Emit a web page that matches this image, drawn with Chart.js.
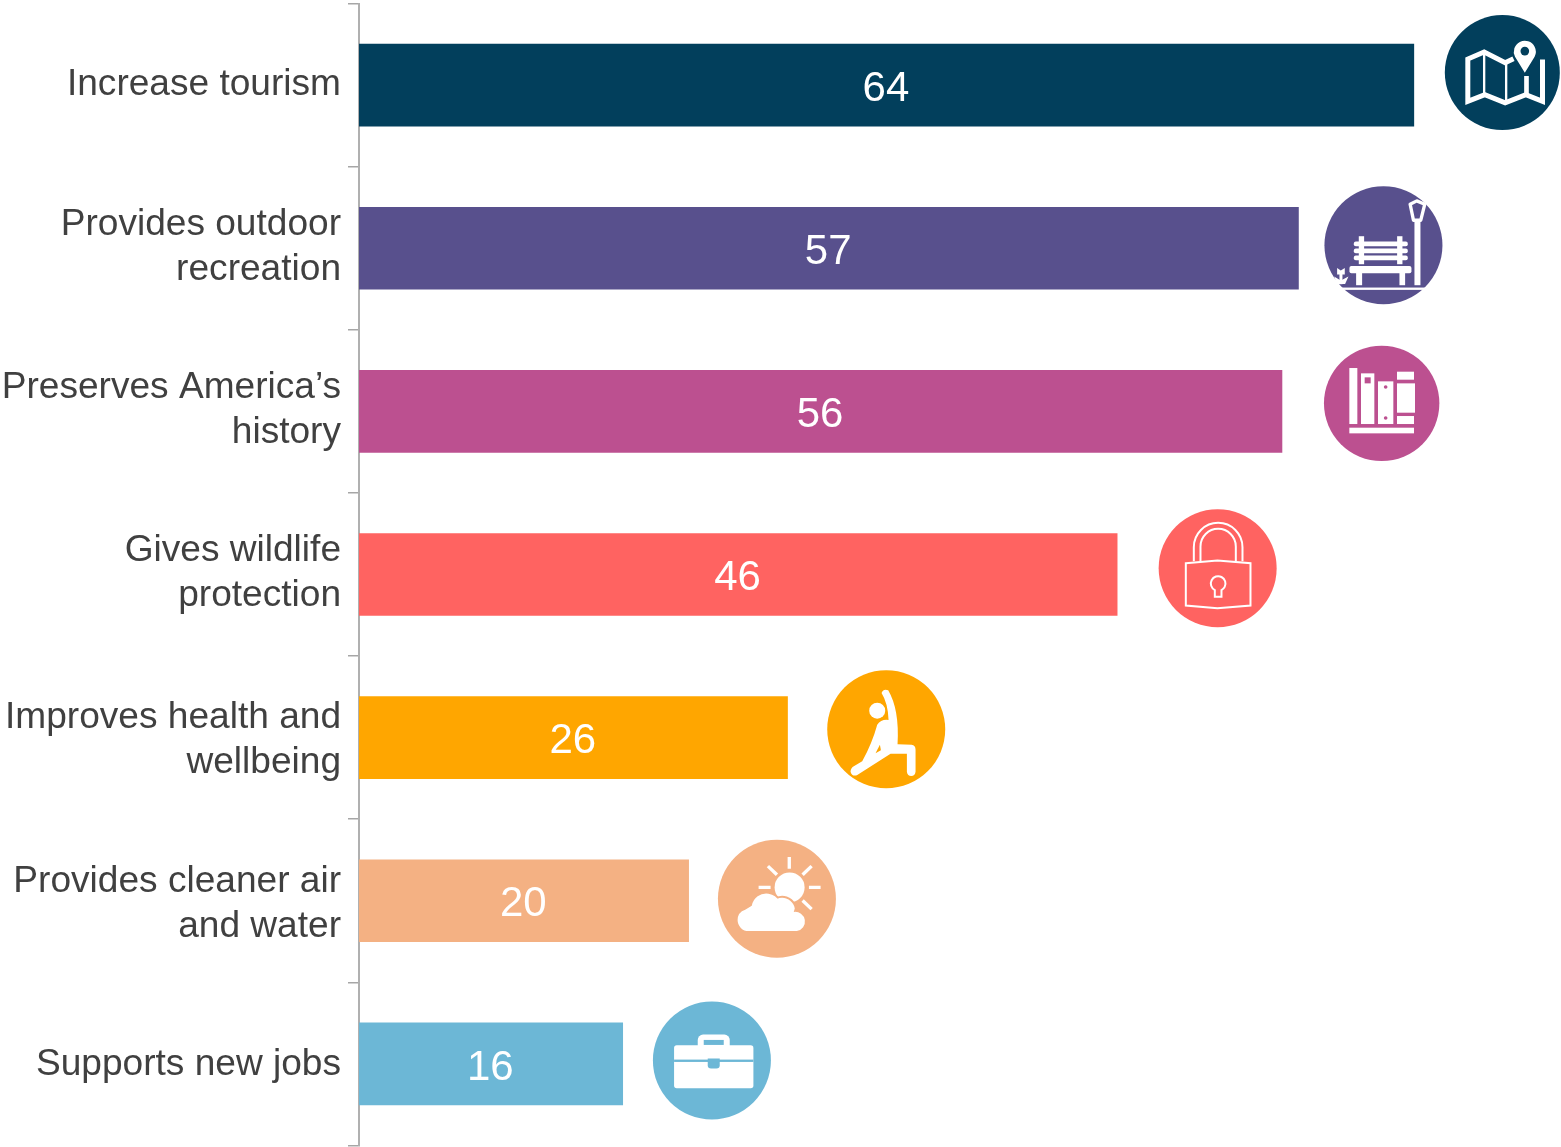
<!DOCTYPE html>
<html><head><meta charset="utf-8">
<style>html,body{margin:0;padding:0;background:#fff}canvas{display:block}</style>
<script src="https://cdn.jsdelivr.net/npm/chart.js@4"></script>
</head><body><canvas id="c" width="1561" height="1147"></canvas>
<script>
const categories = [
  ['Increase tourism'],
  ['Provides outdoor','recreation'],
  ['Preserves America’s','history'],
  ['Gives wildlife','protection'],
  ['Improves health and','wellbeing'],
  ['Provides cleaner air','and water'],
  ['Supports new jobs']
];
const values = [64,57,56,46,26,20,16];
const barColors = ['#023F5C','#58508D','#BC5090','#FF6361','#FFA600','#F4B183','#6CB7D6'];
// circle badge placement relative to the end of each bar: dx, dy, radius
const badgeLayout = [[88.5,-12.5,57.5],[85,-3,59],[99.7,-8,57.7],[100.5,-6.3,59],[98.7,-8.3,59],[88.3,-2,59],[89.2,-3.5,59]];
// small vertical nudges of each category label against its band centre
const labelShift = [-0.5,-0.5,-1.5,-1.5,2.5,3.5,0.5];

function rr(c,x,y,w,h,r){c.beginPath();c.roundRect(x,y,w,h,r);c.fill();}
function ln(c,pts,w,cap){c.lineWidth=w;c.lineCap=cap||'butt';c.lineJoin='miter';c.beginPath();pts.forEach((p,i)=>i?c.lineTo(p[0],p[1]):c.moveTo(p[0],p[1]));c.stroke();}
function disc(c,x,y,r){c.beginPath();c.arc(x,y,r,0,7);c.fill();}

// Icon glyphs are drawn in a 3x local space whose origin (ox,oy) is the badge centre
const icons = [
 {o:[607.5,217.5],d(c,bg){
   ln(c,[[641,176],[616,188],[553,156],[504,177],[504,304],[555,284],[616,308],[678,284],[728,304],[728,178]],15);
   ln(c,[[553,158],[553,285]],7); ln(c,[[619,190],[619,305]],7); ln(c,[[680,228],[680,285]],14);
   c.beginPath();c.arc(675,155,33,Math.PI*0.85,Math.PI*0.15);c.lineTo(675,218);c.closePath();c.fill();
   c.fillStyle=bg;disc(c,675,153,13);
 }},
 {o:[252,735],d(c,bg){
   c.fillRect(112,862,270,7);
   rr(c,163,724,162,14,6);rr(c,163,745,162,14,6);rr(c,163,766,162,14,6);
   c.fillRect(178,708,16,84);c.fillRect(293,708,16,84);
   rr(c,150,797,186,22,6);
   c.fillRect(170,818,18,37);c.fillRect(300,818,17,37);
   c.fillRect(345,662,18,193);
   c.lineWidth=10;c.lineJoin='round';c.beginPath();c.moveTo(332,612);c.lineTo(352,602);c.lineTo(376,612);c.lineTo(364,660);c.lineTo(342,660);c.closePath();c.stroke();
   c.beginPath();c.moveTo(113,803);c.lineTo(124,811);c.lineTo(136,803);c.lineTo(136,823);c.lineTo(113,823);c.closePath();c.fill();
   c.fillRect(120,820,9,32);
   c.beginPath();c.moveTo(104,829);c.lineTo(124,841);c.lineTo(147,829);c.lineTo(137,851);c.lineTo(112,851);c.closePath();c.fill();
 }},
 {o:[725,188],d(c,bg){
   c.fillRect(628,82,24,168);
   c.fillRect(663,98,40,152);
   c.fillRect(714,122,46,128);
   c.fillRect(771,93,51,24);c.fillRect(771,128,54,88);c.fillRect(771,226,51,24);
   c.fillRect(628,261,194,17);
   c.fillStyle=bg;c.fillRect(674,110,18,18);disc(c,737,139,5.5);disc(c,737,232,5.5);
 }},
 {o:[232.5,683],d(c,bg){
   c.lineJoin='miter';
   c.lineWidth=6;c.beginPath();c.moveTo(137,668);c.lineTo(232,660);c.lineTo(331,668);c.lineTo(331,795);c.lineTo(232,803);c.lineTo(137,795);c.closePath();c.stroke();
   c.beginPath();c.moveTo(161,662);c.lineTo(161,620);c.arc(234,620,73,Math.PI,0);c.lineTo(307,662);c.stroke();
   c.beginPath();c.moveTo(181,662);c.lineTo(181,618);c.arc(234,618,53,Math.PI,0);c.lineTo(287,662);c.stroke();
   c.beginPath();c.arc(234,729,22,Math.PI*0.65,Math.PI*0.35);c.lineTo(244,769);c.lineTo(224,769);c.closePath();c.stroke();
 }},
 {o:[560,209],d(c,bg){
   disc(c,533,153,24);
   c.beginPath();c.moveTo(546,100);
   c.quadraticCurveTo(552,86,566,92);
   c.quadraticCurveTo(600,150,594,254);
   c.lineTo(636,255);c.quadraticCurveTo(648,257,648,270);c.lineTo(648,336);
   c.quadraticCurveTo(646,349,635,349);c.quadraticCurveTo(624,349,622,336);c.lineTo(622,282);
   c.lineTo(573,282);c.lineTo(472,347);
   c.quadraticCurveTo(457,351,453,336);c.quadraticCurveTo(453,325,464,319);
   c.lineTo(488,305);c.quadraticCurveTo(518,250,533,195);c.quadraticCurveTo(545,178,567,181);c.quadraticCurveTo(565,130,546,100);c.closePath();c.fill();
   c.fillStyle=bg;c.beginPath();c.moveTo(541,255);c.lineTo(544,272);c.lineTo(528,281);c.closePath();c.fill();
 }},
 {o:[232,717],d(c,bg){
   disc(c,270,683,45);
   ln(c,[[269,592],[269,627]],10);ln(c,[[205,619],[232,645]],10);ln(c,[[336,619],[309,645]],10);
   ln(c,[[177,683],[213,683]],10);ln(c,[[328,683],[363,683]],10);ln(c,[[309,722],[336,748]],10);
   const cloud=()=>{c.beginPath();c.moveTo(147,814);c.arc(147,781,33,Math.PI/2,Math.PI*1.4);c.arc(200,745,44,Math.PI*1.05,Math.PI*1.85);c.arc(248,752,38,Math.PI*1.35,Math.PI*1.95);c.arc(287,785,29,Math.PI*1.45,Math.PI/2);c.closePath();};
   c.strokeStyle=bg;c.lineWidth=12;cloud();c.stroke();
   cloud();c.fill();
 }},
 {o:[216.5,211.5],d(c,bg){
   rr(c,174,134,96,50,16);
   rr(c,103,166,238,129,8);
   c.fillStyle=bg;c.fillRect(192,150,60,15);
   c.fillRect(103,209,238,7);
   c.beginPath();c.roundRect(204,206,36,30,[0,0,10,10]);c.fill();
 }}
];

const overlay = {
  id:'overlay',
  beforeDraw(chart){
    const s=chart.scales.y, items=s.getLabelItems(chart.chartArea);
    if(!items._shifted){items.forEach((it,i)=>{it.options.translation[1]+=labelShift[i];});items._shifted=true;}
  },
  afterDatasetsDraw(chart){
    const c=chart.ctx, bars=chart.getDatasetMeta(0).data;
    bars.forEach((b,i)=>{
      c.save();
      c.fillStyle='#fff';c.font='42px "Liberation Sans"';c.textAlign='center';c.textBaseline='middle';
      c.fillText(String(values[i]),(b.base+b.x)/2-0.5,b.y+4);
      const [dx,dy,r]=badgeLayout[i], cx=b.x+dx, cy=b.y+dy;
      c.fillStyle=barColors[i];c.beginPath();c.arc(cx,cy,r,0,7);c.fill();
      c.save();c.beginPath();c.arc(cx,cy,r+1,0,7);c.clip();
      c.translate(cx,cy);c.scale(1/3,1/3);c.translate(-icons[i].o[0],-icons[i].o[1]);
      c.fillStyle='#fff';c.strokeStyle='#fff';
      icons[i].d(c,barColors[i]);
      c.restore();c.restore();
    });
  }
};

new Chart(document.getElementById('c'),{
  type:'bar',
  data:{labels:categories,datasets:[{data:values,backgroundColor:barColors,barThickness:82,borderWidth:0}]},
  plugins:[overlay],
  options:{
    indexAxis:'y',responsive:false,animation:false,
    layout:{padding:{top:3.5,bottom:1.5,left:0,right:0}},
    plugins:{legend:{display:false},tooltip:{enabled:false}},
    scales:{
      x:{display:false,min:0,max:72.93},
      y:{
        afterFit(s){s.width=359;s.paddingTop=0;s.paddingBottom=0;},
        grid:{offset:true,drawOnChartArea:false,drawTicks:true,tickLength:11,color:'#a6a6a6',lineWidth:1.5},
        border:{color:'#b0b0b0',width:2},
        ticks:{color:'#404040',padding:7,labelOffset:0,autoSkip:false,maxRotation:0,minRotation:0,
          font:{family:'"Liberation Sans"',size:37.1,lineHeight:1.213}}
      }
    }
  }
});
</script></body></html>
